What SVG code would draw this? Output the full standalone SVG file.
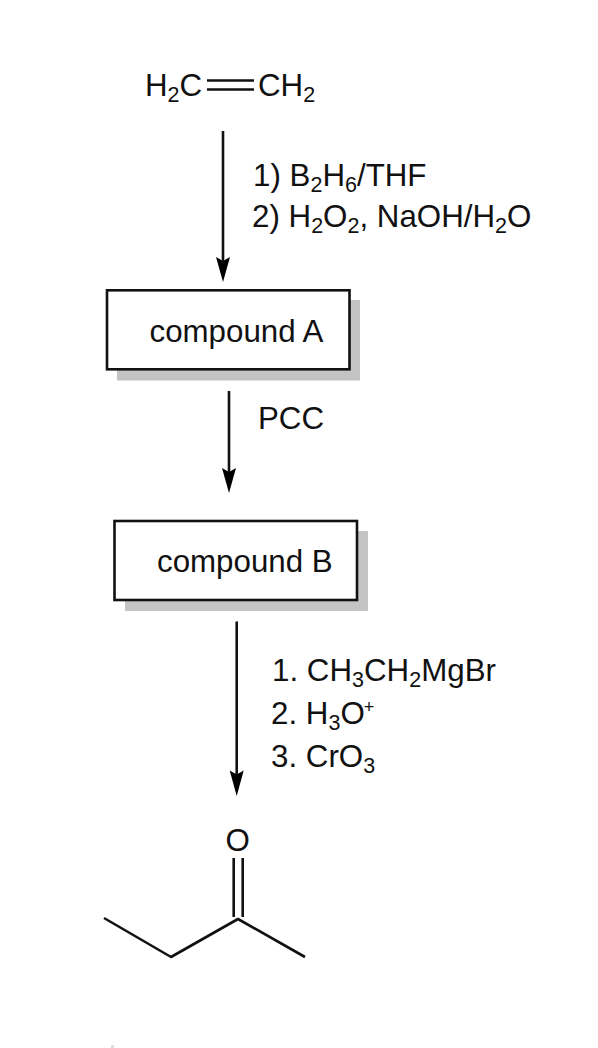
<svg xmlns="http://www.w3.org/2000/svg" width="598" height="1048" viewBox="0 0 598 1048">
<style>
text{font-family:"Liberation Sans",Arial,sans-serif;font-size:31.3px;fill:#111}
.s{font-size:21.500px}
.p{font-size:18px}
.box{fill:#fff;stroke:#111;stroke-width:2.6}
.shadow{fill:#c4c4c4}
.bond{fill:none;stroke:#111;stroke-width:2.6}
.arrow{fill:none;stroke:#111;stroke-width:2.6}
.head{fill:#000}
</style>
<rect width="598" height="1048" fill="#fff"/>
<g id="ethene">
<text x="145" y="96">H<tspan class="s" dy="6">2</tspan><tspan dy="-6">C</tspan></text>
<text x="258" y="96">CH<tspan class="s" dy="6">2</tspan></text>
<path class="bond" d="M207 80.500H254M207 89.500H254"/>
</g>
<g id="connectors">
<path class="arrow" d="M223 131V262"/><path class="head" d="M216 257L223 282L230 257L223 261Z"/>
<path class="arrow" d="M229 391V473"/><path class="head" d="M222 468L229 493L236 468L229 472Z"/>
<path class="arrow" d="M236.700 621.500V775"/><path class="head" d="M229.700 770.500L236.700 796L243.700 770.500L236.700 774.500Z"/>
</g>
<g id="reagents-1">
<text x="253" y="186">1) B<tspan class="s" dy="6">2</tspan><tspan dy="-6">H</tspan><tspan class="s" dy="6">6</tspan><tspan dy="-6">/THF</tspan></text>
<text x="252" y="227">2) H<tspan class="s" dy="6">2</tspan><tspan dy="-6">O</tspan><tspan class="s" dy="6">2</tspan><tspan dy="-6">, NaOH/H</tspan><tspan class="s" dy="6">2</tspan><tspan dy="-6">O</tspan></text>
</g>
<g id="compound-a">
<rect class="shadow" x="117" y="300" width="243" height="80.500"/>
<rect class="box" x="107" y="290.300" width="242.500" height="79"/>
<text x="149.500" y="342">compound A</text>
</g>
<g id="reagent-2"><text x="258" y="429">PCC</text></g>
<g id="compound-b">
<rect class="shadow" x="125" y="531" width="243" height="80"/>
<rect class="box" x="114.500" y="521" width="242.500" height="79"/>
<text x="157" y="572">compound B</text>
</g>
<g id="reagents-3">
<text x="272" y="681">1. CH<tspan class="s" dy="6">3</tspan><tspan dy="-6">CH</tspan><tspan class="s" dy="6">2</tspan><tspan dy="-6">MgBr</tspan></text>
<text x="271" y="724">2. H<tspan class="s" dy="6">3</tspan><tspan dy="-6">O</tspan><tspan class="p" dx="-1" dy="-11">+</tspan></text>
<text x="271" y="767">3. CrO<tspan class="s" dy="6">3</tspan></text>
</g>
<g id="butanone">
<text x="225.500" y="851">O</text>
<path class="bond" d="M233.700 858V917M242.700 858V917"/>
<path class="bond" stroke-linejoin="round" d="M104 918L171 957L238 919L305 957"/>
</g>
<rect id="speck" x="111" y="1045" width="3" height="3" fill="#ddd"/>
</svg>
